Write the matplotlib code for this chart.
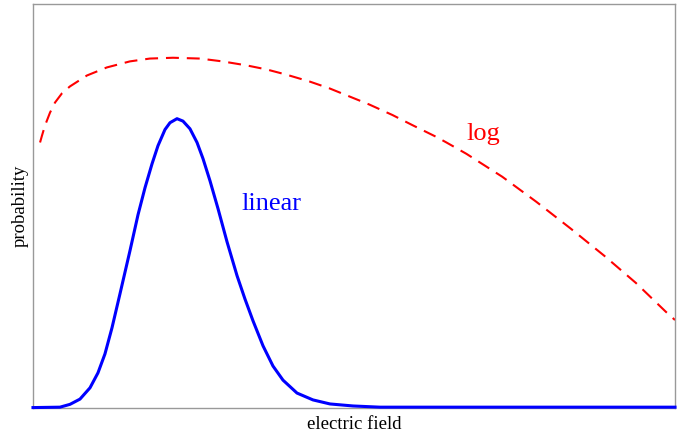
import matplotlib.pyplot as plt

# values (field in arbitrary units, probability normalised to axis height)
linear_field = [0.0, 0.42, 0.576, 0.732, 0.888, 1.012, 1.121, 1.231, 1.355, 1.511, 1.636, 1.745, 1.854,
                1.947, 2.056, 2.134, 2.243, 2.336, 2.445, 2.555, 2.648, 2.757, 2.882, 3.022, 3.178, 3.302,
                3.427, 3.583, 3.738, 3.894, 4.112, 4.361, 4.626, 4.984, 5.405, 10.0]
linear_prob = [0.001, 0.002, 0.009, 0.022, 0.050, 0.087, 0.134, 0.199, 0.283, 0.390, 0.479, 0.546, 0.605,
               0.650, 0.690, 0.707, 0.717, 0.711, 0.692, 0.658, 0.618, 0.563, 0.494, 0.412, 0.328, 0.270,
               0.216, 0.154, 0.104, 0.069, 0.037, 0.020, 0.010, 0.005, 0.002, 0.002]

log_field = [0.11, 0.14, 0.187, 0.265, 0.343, 0.452, 0.576, 0.84, 1.15, 1.51, 1.82, 2.18, 2.60, 2.95, 3.33,
             3.64, 3.95, 4.31, 4.62, 4.93, 5.24, 5.60, 5.91, 6.28, 6.44, 6.75, 7.31, 7.84, 8.38, 8.90, 9.39,
             9.86, 10.0]
log_prob = [0.658, 0.675, 0.700, 0.732, 0.757, 0.780, 0.797, 0.824, 0.844, 0.859, 0.866, 0.868, 0.866, 0.859,
            0.849, 0.839, 0.826, 0.809, 0.792, 0.772, 0.752, 0.726, 0.701, 0.672, 0.658, 0.630, 0.573, 0.511,
            0.444, 0.377, 0.310, 0.238, 0.218]

plt.rcParams['font.family'] = ['Liberation Serif', 'DejaVu Serif']

fig = plt.figure(figsize=(6.83, 4.32), dpi=100)
ax = fig.add_axes([0.0483, 0.0556, 0.94, 0.934])

ax.plot(log_field, log_prob, color='red', lw=1.5, dashes=(6.2, 3.8))
ax.plot(linear_field, linear_prob, color='blue', lw=2.2, clip_on=False, zorder=3,
        solid_joinstyle='round')

ax.text(3.25, 0.491, 'linear', color='blue', fontsize=19)
ax.text(6.75, 0.665, 'log', color='red', fontsize=19)

ax.set_xlim(0, 10)
ax.set_ylim(0, 1)
ax.set_xticks([])
ax.set_yticks([])
for s in ax.spines.values():
    s.set_color('#999999')
    s.set_linewidth(1.0)

ax.set_xlabel('electric field', fontsize=13.5, labelpad=6)
ax.set_ylabel('probability', fontsize=13.5, labelpad=3)

fig.savefig('out.png', dpi=100)
